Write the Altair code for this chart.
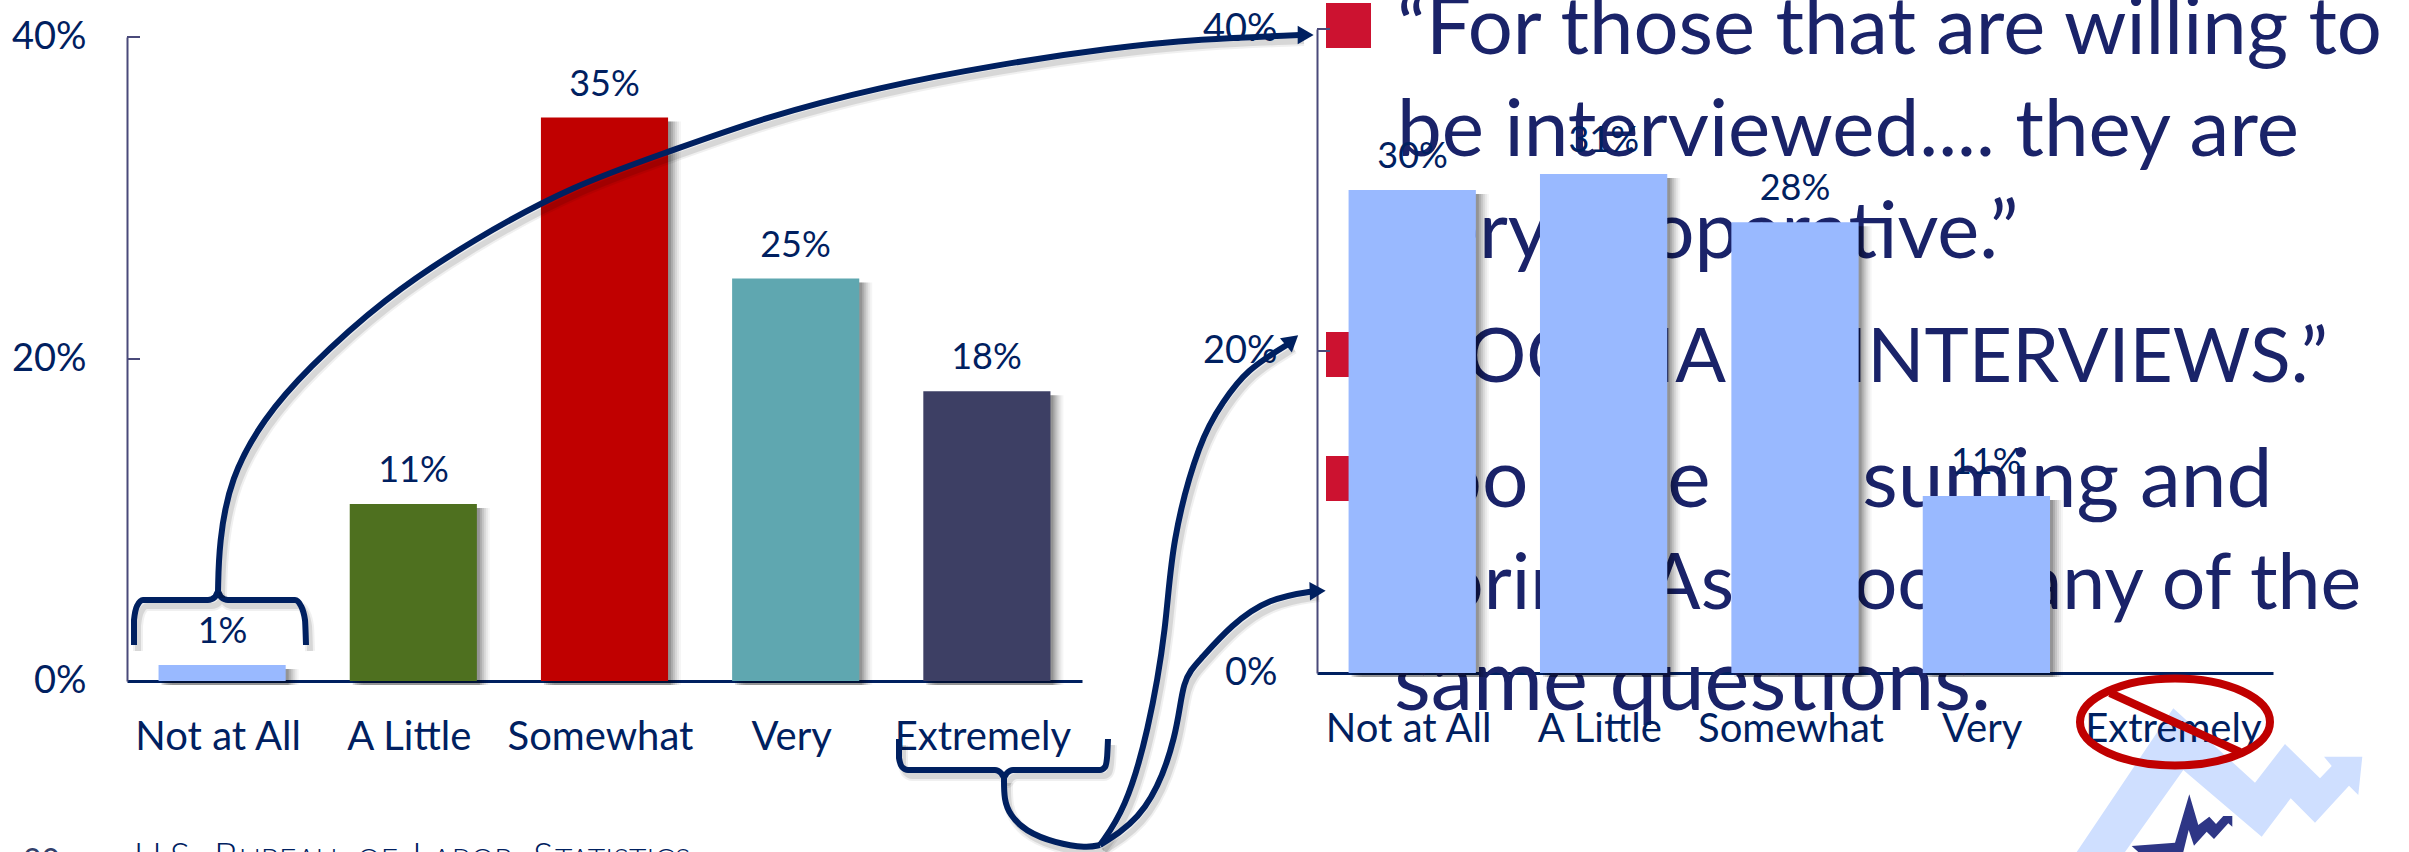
import altair as alt
import pandas as pd

NAVY = "#002060"
INK = "#1A2369"
FONT = "Lato"

categories = ["Not at All", "A Little", "Somewhat", "Very", "Extremely"]
before_values = [1, 11, 35, 25, 18]
before_colors = ["#99B9FF", "#4E701F", "#C00000", "#5FA7B0", "#3D3F64"]
after_categories = ["Not at All", "A Little", "Somewhat", "Very"]
after_values = [30, 31, 28, 11]
after_color = "#99B9FF"
y_ticks = [0, 20, 40]

quote_lines = [
    "“For those that are willing to",
    "be interviewed.... they are",
    "very cooperative.”",
    "“TOO MANY INTERVIEWS.”",
    "Too time consuming and",
    "boring. Asks too many of the",
    "same questions.",
]
quote_x = [1397, 1397, 1397, 1397, 1397, 1397, 1394]
quote_y = [54, 156, 258, 382, 507, 609, 710]
quote_size = [79.6, 80, 79.5, 75, 82, 77, 85]

bullet_x = [1326, 1326, 1326]
bullet_y = [3, 332, 456]

brace_a = {"x": [134, 134, 137, 143, 208, 215, 218, 221, 228, 295, 301, 305, 306],
           "y": [645, 620, 606, 600, 600, 597, 592, 597, 600, 600, 606, 620, 645]}
curve_a = {"x": [218, 219, 230, 264, 306, 383, 474, 574, 668, 765, 880, 995, 1110, 1200, 1300],
           "y": [592, 543, 478, 418, 370, 299, 239, 185, 152, 117, 87, 65, 48, 39, 35]}
brace_b = {"x": [899, 899, 902, 908, 995, 1001, 1004, 1007, 1013, 1100, 1105, 1107, 1108],
           "y": [739, 758, 767, 770, 770, 773, 777, 773, 770, 770, 767, 758, 739]}
stem_b = {"x": [1004, 1004, 1010, 1025, 1055, 1087, 1100],
          "y": [777, 800, 815, 831, 843, 848, 845]}
curve_b = {"x": [1100, 1125, 1148, 1167, 1171, 1200, 1223, 1246, 1290],
           "y": [845, 810, 734, 625, 543, 438, 402, 370, 343]}
curve_c = {"x": [1100, 1148, 1178, 1182, 1200, 1231, 1269, 1315],
           "y": [845, 815, 734, 679, 660, 625, 598, 591]}
arrow_tips = {"x": [1303, 1290, 1315], "y": [35, 342, 591], "angle": [90, 50, 88]}

ellipse_path = "M-95,0 A95,43.5 0 1,1 95,0 A95,43.5 0 1,1 -95,0 Z"
slash = {"x": [2110, 2240], "y": [693, 752]}
zigzag_light = ("M126.7,212 L223.3,68.3 L305,142.7 L335,104 L370,138.3 L381.7,126 L374,116.7 "
                "L412.3,116.7 L408.3,155 L399,145.7 L365,182.7 L340.7,158.3 L311.7,196.7 "
                "L233.3,130 L175,212 Z")
zigzag_dark = ("M181.7,206 L225,202.7 L239.3,154.3 L248.3,185 L259.3,176.7 L266,184 L273.3,176 "
               "L282.3,176 L282.3,186.7 L278.3,183.3 L264,199 L256.7,191.7 L244,205.7 L238.7,190 "
               "L233.3,212 L188.3,212 Z")

footer_runs = [("U.S.", 134, 38), ("B", 214, 38), ("UREAU", 239, 30), ("OF", 357, 30),
               ("L", 412, 38), ("ABOR", 432, 30), ("S", 533, 38), ("TATISTICS", 555, 30)]

WIDTH, HEIGHT = 2409, 852
BEFORE_X, BEFORE_Y = [127, 1082], [681, 37]
AFTER_X, AFTER_Y = [1317, 2273], [673, 29]
BAND_INNER, BAND_OUTER = 0.335, 0.165


def band(domain, rng):
    return alt.Scale(domain=domain, range=rng, paddingInner=BAND_INNER, paddingOuter=BAND_OUTER)


def linear(rng):
    return alt.Scale(domain=[0, 40], range=rng, nice=False)


def pixel_line(points, width=6, color=NAVY, interpolate="basis", shadow=True):
    # Connector on the page's pixel grid, with a soft offset shadow beneath it.
    df = pd.DataFrame(points).reset_index()
    enc = dict(x=alt.X("x:Q", scale=None, axis=None), y=alt.Y("y:Q", scale=None, axis=None), order="index:Q")
    parts = []
    if shadow:
        halo = df.assign(x=df.x + 4, y=df.y + 6)
        for w, op in [(10, 0.06), (6, 0.1)]:
            parts.append(alt.Chart(halo).mark_line(color="#000000", opacity=op, strokeWidth=w,
                                                   interpolate=interpolate).encode(**enc))
    parts.append(alt.Chart(df).mark_line(color=color, strokeWidth=width, interpolate=interpolate,
                                         strokeCap="butt").encode(**enc))
    return parts


def bars(frame, x_scale, y_scale):
    # Soft drop shadow built from offset translucent copies behind each bar.
    layers = []
    for off, op in [(13, 0.04), (11, 0.05), (9, 0.07), (7, 0.09), (5, 0.11), (3, 0.14)]:
        layers.append(alt.Chart(frame).mark_bar(color="#000000", opacity=op, xOffset=off, x2Offset=off, yOffset=4, y2Offset=0).encode(
            x=alt.X("cat:N", scale=x_scale, axis=None),
            y=alt.Y("value:Q", scale=y_scale, axis=None),
        ))
    layers.append(alt.Chart(frame).mark_bar().encode(
        x=alt.X("cat:N", scale=x_scale, axis=None),
        y=alt.Y("value:Q", scale=y_scale, axis=None),
        fill=alt.Fill("color:N", scale=None),
    ))
    layers.append(alt.Chart(frame).mark_text(font=FONT, fontSize=36, color=NAVY, baseline="alphabetic", dy=-22).encode(
        x=alt.X("cat:N", scale=x_scale, axis=None),
        y=alt.Y("value:Q", scale=y_scale, axis=None),
        text="label:N",
    ))
    return layers


before = pd.DataFrame({"cat": categories, "value": before_values, "color": before_colors,
                       "label": [f"{v}%" for v in before_values]})
after = pd.DataFrame({"cat": after_categories, "value": after_values, "color": after_color,
                      "label": [f"{v}%" for v in after_values]})
ticks = pd.DataFrame({"tick": y_ticks})
cats = pd.DataFrame({"cat": categories})

# Axes live on an otherwise empty layer so they sit beneath every mark.
before_axes = alt.Chart(ticks).mark_rule(opacity=0).encode(
    y=alt.Y("tick:Q", scale=linear(BEFORE_Y),
            axis=alt.Axis(orient="left", offset=-127, values=y_ticks, title=None, grid=False, ticks=False,
                          labelExpr="datum.value + '%'", labelFont=FONT, labelFontSize=38, labelColor=NAVY,
                          labelPadding=41, domainColor="#4A4A7A", domainWidth=2)),
)
before_x_axis = alt.Chart(cats).mark_rule(opacity=0).encode(
    x=alt.X("cat:N", scale=band(categories, BEFORE_X), sort=None,
            axis=alt.Axis(orient="bottom", offset=-171, title=None, grid=False, ticks=False, labelAngle=0,
                          labelFont=FONT, labelFontSize=40, labelColor=NAVY, labelPadding=36, labelOffset=-4,
                          labelLimit=400, domainColor=NAVY, domainWidth=3)),
)
after_axes = alt.Chart(ticks).mark_rule(opacity=0).encode(
    y=alt.Y("tick:Q", scale=linear(AFTER_Y),
            axis=alt.Axis(orient="left", offset=-1317, values=y_ticks, title=None, grid=False, ticks=False,
                          labelExpr="datum.value + '%'", labelFont=FONT, labelFontSize=38, labelColor=NAVY,
                          labelPadding=40, domainColor="#4A4A7A", domainWidth=2)),
)
after_x_axis = alt.Chart(cats).mark_rule(opacity=0).encode(
    x=alt.X("cat:N", scale=band(categories, AFTER_X), sort=None,
            axis=alt.Axis(orient="bottom", offset=-179, title=None, grid=False, ticks=False, labels=False,
                          domainColor=NAVY, domainWidth=3)),
)


def tick_marks(x_start, y_scale):
    df = ticks[ticks.tick > 0]
    return alt.Chart(df).mark_rule(color="#4A4A7A", strokeWidth=2).encode(
        y=alt.Y("tick:Q", scale=y_scale, axis=None),
        x=alt.value(x_start),
        x2=alt.value(x_start + 13),
    )


quote_df = pd.DataFrame({"t": quote_lines, "x": quote_x, "y": quote_y, "size": quote_size})
quote = alt.Chart(quote_df).mark_text(font=FONT, color=INK, align="left", baseline="alphabetic").encode(
    x=alt.X("x:Q", scale=None, axis=None), y=alt.Y("y:Q", scale=None, axis=None), text="t:N",
    size=alt.Size("size:Q", scale=None))

bullets = alt.Chart(pd.DataFrame({"x": bullet_x, "y": bullet_y})).mark_rect(color="#CC1230").encode(
    x=alt.X("x:Q", scale=None, axis=None),
    x2=alt.X2("x2:Q"),
    y=alt.Y("y:Q", scale=None, axis=None),
    y2=alt.Y2("y2:Q"),
).transform_calculate(x2="datum.x + 45", y2="datum.y + 45")

after_labels = alt.Chart(cats).mark_text(font=FONT, fontSize=40, color=NAVY, baseline="alphabetic", dx=-4).encode(
    x=alt.X("cat:N", scale=band(categories, AFTER_X), sort=None, axis=None),
    y=alt.value(742),
    text="cat:N",
)

logo_anchor = pd.DataFrame({"x": [1950], "y": [640]})
logo_light = alt.Chart(logo_anchor).mark_point(
    shape=zigzag_light, size=4, filled=True, fill="#CFDFFF", stroke=None, opacity=1).encode(
    x=alt.X("x:Q", scale=None, axis=None), y=alt.Y("y:Q", scale=None, axis=None))
logo_dark = alt.Chart(logo_anchor).mark_point(
    shape=zigzag_dark, size=4, filled=True, fill="#2E3686", stroke=None, opacity=1).encode(
    x=alt.X("x:Q", scale=None, axis=None), y=alt.Y("y:Q", scale=None, axis=None))
no_ring = alt.Chart(pd.DataFrame({"x": [2175], "y": [722]})).mark_point(
    shape=ellipse_path, size=4, filled=False, stroke="#C00000", strokeWidth=8, opacity=1).encode(
    x=alt.X("x:Q", scale=None, axis=None), y=alt.Y("y:Q", scale=None, axis=None))

tips = alt.Chart(pd.DataFrame(arrow_tips)).mark_point(shape="triangle", filled=True, color=NAVY, size=340, opacity=1).encode(
    x=alt.X("x:Q", scale=None, axis=None), y=alt.Y("y:Q", scale=None, axis=None),
    angle=alt.Angle("angle:Q", scale=None))

footer_df = pd.DataFrame(footer_runs, columns=["t", "x", "size"])
footer = alt.Chart(footer_df).mark_text(font=FONT, color=NAVY, align="left", baseline="alphabetic", fontWeight=300).encode(
    x=alt.X("x:Q", scale=None, axis=None), y=alt.value(870), text="t:N", size=alt.Size("size:Q", scale=None))
page_no = alt.Chart(pd.DataFrame({"t": ["20"]})).mark_text(font=FONT, fontSize=32, color="#33406B", align="left", baseline="alphabetic").encode(
    x=alt.value(23), y=alt.value(872), text="t:N")

layers = [
    before_axes, before_x_axis, after_axes, after_x_axis,
    quote, bullets,
    tick_marks(127, linear(BEFORE_Y)), tick_marks(1317, linear(AFTER_Y)),
    *bars(before, band(categories, BEFORE_X), linear(BEFORE_Y)),
    *bars(after, band(categories, AFTER_X), linear(AFTER_Y)),
    logo_light, logo_dark, after_labels, no_ring, *pixel_line(slash, 8, "#C00000", "linear", shadow=False),
    footer, page_no,
    *pixel_line(brace_a, interpolate="monotone"), *pixel_line(curve_a), *pixel_line(brace_b, interpolate="monotone"),
    *pixel_line(stem_b), *pixel_line(curve_b), *pixel_line(curve_c), tips,
]

chart = alt.layer(*layers).resolve_scale(x="independent", y="independent").resolve_axis(
    x="independent", y="independent"
).properties(
    width=WIDTH, height=HEIGHT, padding=0, autosize=alt.AutoSizeParams(type="none"),
    background="white",
).configure_view(stroke=None)

chart.save("out.html", embed_options={"renderer": "svg", "actions": False})
